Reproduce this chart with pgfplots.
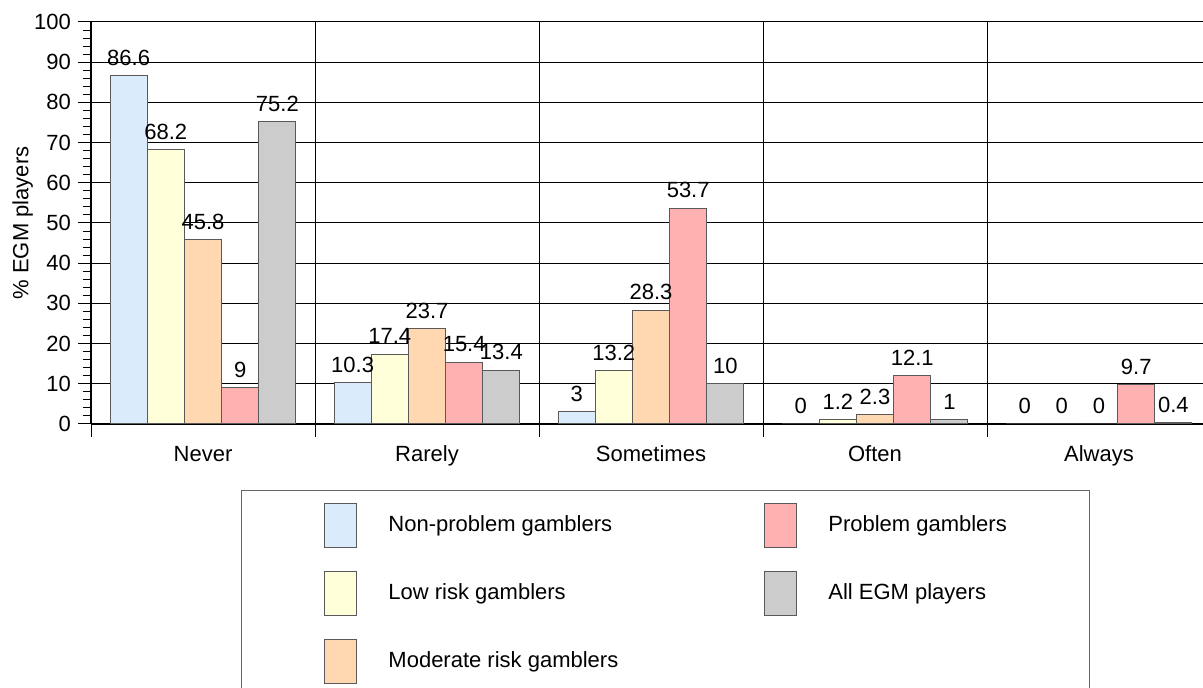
\documentclass[border=0pt]{standalone}
\usepackage{fontspec}
\setmainfont{Liberation Sans}
\usepackage{pgfplots}
\pgfplotsset{compat=1.18}

\definecolor{cnonprob}{RGB}{218,235,252}
\definecolor{clowrisk}{RGB}{255,255,217}
\definecolor{cmodrisk}{RGB}{255,216,178}
\definecolor{cproblem}{RGB}{255,177,177}
\definecolor{callegm}{RGB}{204,204,204}

\begin{document}
\begin{tikzpicture}[font=\fontsize{11}{13}\selectfont]
\path[use as bounding box] (0,0) rectangle (601.5pt,344pt);
\clip (0,0) rectangle (601.5pt,344pt);
\begin{axis}[
  at={(45.5pt,132pt)}, anchor=south west,
  scale only axis, width=560pt, height=201pt,
  xmin=-0.5, xmax=4.5, ymin=0, ymax=100,
  axis x line*=bottom, axis y line*=left,
  axis line style={black, line width=0.6pt},
  xtick={-0.5,0.5,...,4.5},
  x tick label as interval,
  xticklabels={Never,Rarely,Sometimes,Often,Always},
  xticklabel style={text height=8pt, text depth=2.5pt, yshift=-0.5pt},
  ytick={0,10,...,100}, minor y tick num=4,
  tick align=outside, major tick length=6.5pt, minor tick length=4pt,
  tick style={black, line width=0.5pt},
  xmajorgrids, ymajorgrids,
  major grid style={black, line width=0.5pt},
  /pgf/number format/assume math mode=true,
  tick label style={font=\fontsize{11}{13}\selectfont},
  ylabel={\% EGM players},
  ylabel style={at={(axis description cs:-0.061,0.5)}, anchor=center, font=\fontsize{11}{13}\selectfont},
  ybar=0pt, bar width=0.166,
  every axis plot/.append style={draw=black!65, line width=0.5pt},
  nodes near coords,
  nodes near coords style={font=\fontsize{11}{13}\selectfont, black, yshift=1.5pt},
  legend columns=3, transpose legend,
  legend cell align=left,
  legend image code/.code={\draw[#1] (0pt,-11pt) rectangle (16pt,11pt);},
  legend style={
    at={(axis description cs:0.1339,-0.1642)}, anchor=north west,
    draw=black!60, line width=0.5pt,
    inner xsep=41.5pt, inner ysep=6pt,
    row sep=11.5pt,
    nodes={inner xsep=0pt},
    font=\fontsize{11}{13}\selectfont,
    /tikz/column 1/.style={column sep=15.5pt},
    /tikz/column 2/.style={column sep=73pt},
    /tikz/column 3/.style={column sep=15.5pt},
  },
]
\addplot[fill=cnonprob] coordinates {(0,86.6) (1,10.3) (2,3) (3,0) (4,0)};
\addlegendentry{Non-problem gamblers}
\addplot[fill=clowrisk] coordinates {(0,68.2) (1,17.4) (2,13.2) (3,1.2) (4,0)};
\addlegendentry{Low risk gamblers}
\addplot[fill=cmodrisk] coordinates {(0,45.8) (1,23.7) (2,28.3) (3,2.3) (4,0)};
\addlegendentry{Moderate risk gamblers}
\addplot[fill=cproblem] coordinates {(0,9) (1,15.4) (2,53.7) (3,12.1) (4,9.7)};
\addlegendentry{Problem gamblers}
\addplot[fill=callegm] coordinates {(0,75.2) (1,13.4) (2,10) (3,1) (4,0.4)};
\addlegendentry{All EGM players}
\end{axis}
\end{tikzpicture}
\end{document}
